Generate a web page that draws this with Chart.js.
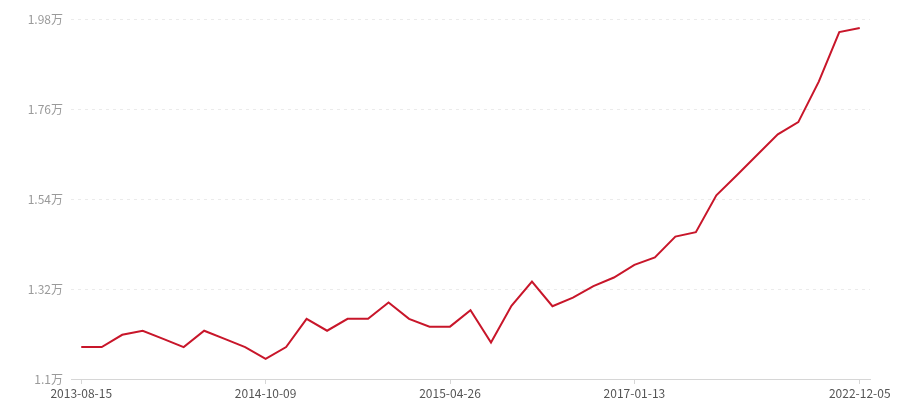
<!DOCTYPE html>
<html>
<head>
<meta charset="utf-8">
<script src="https://cdn.jsdelivr.net/npm/chart.js@4/dist/chart.umd.min.js"></script>
<style>
  html, body { margin: 0; padding: 0; background: #fff; }
  #wrap { width: 900px; height: 400px; position: relative; }
</style>
</head>
<body>
<div id="wrap"><canvas id="priceChart"></canvas></div>
<script>
// Values (yuan), one point per category
const prices = [
    11780, 11780, 12080, 12180, 11980, 11780, 12180, 11980, 11780, 11490,
    11780, 12470, 12180, 12470, 12470, 12870, 12470, 12280, 12280, 12680,
    11890, 12790, 13380, 12780, 12990, 13270, 13480, 13790, 13970, 14480,
    14590, 15490, 15980, 16480, 16980, 17280, 18270, 19480, 19580
];

// Only these dates are shown on the x axis
const tickIndex = [0, 9, 18, 27, 38];
const tickDates = ["2013-08-15", "2014-10-09", "2015-04-26", "2017-01-13", "2022-12-05"];

// Y axis range and step
const yMin = 11000;
const yMax = 19800;
const yStep = 2200;

const categories = prices.map((_, i) => i);
const fontFamily = "'Microsoft YaHei', 'Noto Sans CJK SC', 'Noto Sans', sans-serif";

const ctx = document.getElementById("priceChart").getContext("2d");

new Chart(ctx, {
    type: "line",
    data: {
        labels: categories,
        datasets: [{
            data: prices,
            borderColor: "#c8162a",
            borderWidth: 2,
            pointRadius: 0,
            tension: 0,
            fill: false
        }]
    },
    options: {
        responsive: true,
        maintainAspectRatio: false,
        animation: false,
        layout: { padding: { top: 19, right: 30, left: 0, bottom: 0 } },
        plugins: {
            legend: { display: false },
            tooltip: { enabled: false }
        },
        scales: {
            x: {
                type: "category",
                offset: true,
                afterBuildTicks: (axis) => {
                    axis.ticks = axis.ticks.filter(t => tickIndex.includes(t.value));
                },
                afterFit: (axis) => { axis.height = 21; },
                grid: {
                    drawOnChartArea: false,
                    drawTicks: true,
                    tickLength: 5,
                    color: "#d6d6d6"
                },
                border: { display: true, color: "#d6d6d6", width: 1 },
                ticks: {
                    autoSkip: false,
                    maxRotation: 0,
                    padding: 2,
                    color: "#555",
                    font: { family: fontFamily, size: 12 },
                    callback: function (value) {
                        const k = tickIndex.indexOf(value);
                        return k >= 0 ? tickDates[k] : "";
                    }
                }
            },
            y: {
                min: yMin,
                max: yMax,
                afterFit: (axis) => { axis.width = 71; },
                grid: {
                    drawTicks: false,
                    color: "#ebebeb",
                    lineWidth: 1
                },
                border: { display: false, dash: [3, 4] },
                ticks: {
                    stepSize: yStep,
                    padding: 8,
                    color: "#9a9a9a",
                    font: { family: fontFamily, size: 12 },
                    callback: (v) => parseFloat((v / 10000).toFixed(2)) + "万"
                }
            }
        }
    }
});
</script>
</body>
</html>
